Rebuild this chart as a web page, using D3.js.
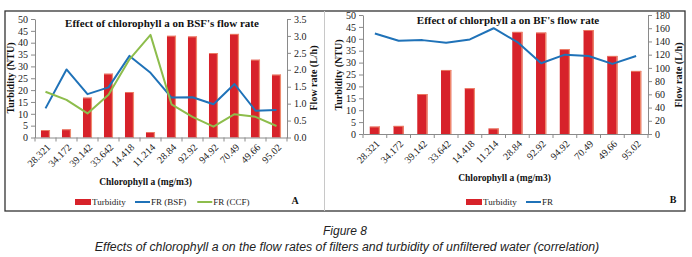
<!DOCTYPE html>
<html>
<head>
<meta charset="utf-8">
<script src="https://cdn.jsdelivr.net/npm/d3@7"></script>
<style>
body{margin:0;background:#fff;}
svg{display:block;}
</style>
</head>
<body>
<svg id="fig"></svg>
<script>
// data
var chlorophyll = ["28.321","34.172","39.142","33.642","14.418","11.214","28.84","92.92","94.92","70.49","49.66","95.02"];
var turbidity = [3.1, 3.4, 16.8, 26.9, 19.2, 2.3, 42.9, 42.6, 35.6, 43.7, 32.8, 26.5];
var frBSF = [0.86, 2.01, 1.28, 1.48, 2.41, 1.91, 1.18, 1.19, 0.98, 1.58, 0.79, 0.81];
var frCCF = [1.35, 1.11, 0.71, 1.26, 2.31, 3.03, 0.98, 0.61, 0.32, 0.69, 0.61, 0.34];
var frBF = [152, 141, 142, 138, 143, 160, 139, 107, 120, 118, 106, 118];
var turbTicks = [0, 5, 10, 15, 20, 25, 30, 35, 40, 45, 50];
var flowTicksA = [0, 0.5, 1, 1.5, 2, 2.5, 3, 3.5];
var flowTicksB = [0, 20, 40, 60, 80, 100, 120, 140, 160, 180];

var W = 692, H = 257;
var serif = "'Liberation Serif','Times New Roman',serif";
var sans = "'Liberation Sans',Arial,sans-serif";
var red = "#d7222a", redEdge = "#ef8a6e", blue = "#1f72b8", green = "#8dbd4c";
var axisGrey = "#8a8a8a";

var svg = d3.select("#fig")
	.attr("width", W)
	.attr("height", H)
	.attr("viewBox", [0, 0, W, H]);

// outer frame + divider
svg.append("rect")
	.attr("x", 5).attr("y", 11)
	.attr("width", 680).attr("height", 200)
	.attr("fill", "none")
	.attr("stroke", "#333")
	.attr("stroke-width", 1.3);
svg.append("line")
	.attr("x1", 324.5).attr("x2", 324.5)
	.attr("y1", 11).attr("y2", 211)
	.attr("stroke", "#c8c8c8")
	.attr("stroke-width", 1);

var panelA = {
	x0: 35, x1: 287, y0: 137.5, y1: 19,
	rMax: 3.5, rTicks: flowTicksA,
	lines: [{values: frBSF, color: blue, name: "FR (BSF)"}, {values: frCCF, color: green, name: "FR (CCF)"}],
	title: "Effect of chlorophyll a on BSF's flow rate", titleX: 162, titleY: 26.5,
	leftLabelX: 13.5, rightLabelX: 316.5, labelY: 78,
	xTitleX: 145.5, xTitleY: 184.5,
	legendX: 75, legendY: 202,
	letter: "A", letterX: 295, letterY: 203.5
};
var panelB = {
	x0: 363, x1: 648, y0: 134, y1: 15,
	rMax: 180, rTicks: flowTicksB,
	lines: [{values: frBF, color: blue, name: "FR"}],
	title: "Effect of chlorphyll a on BF's flow rate", titleX: 508, titleY: 23.5,
	leftLabelX: 341.5, rightLabelX: 681.5, labelY: 75,
	xTitleX: 504.5, xTitleY: 181,
	legendX: 466, legendY: 202,
	letter: "B", letterX: 673, letterY: 202.5
};

drawPanel(panelA);
drawPanel(panelB);

// caption
svg.append("text")
	.attr("x", 345).attr("y", 234.5)
	.attr("text-anchor", "middle")
	.attr("font-family", sans)
	.attr("font-style", "italic")
	.attr("font-size", "12px")
	.attr("fill", "#222")
	.text("Figure 8");
svg.append("text")
	.attr("x", 347).attr("y", 250.5)
	.attr("text-anchor", "middle")
	.attr("font-family", sans)
	.attr("font-style", "italic")
	.attr("font-size", "12.3px")
	.attr("fill", "#222")
	.text("Effects of chlorophyll a on the flow rates of filters and turbidity of unfiltered water (correlation)");

function drawPanel(p){
	var g = svg.append("g");

	var x = d3.scaleBand()
		.domain(chlorophyll)
		.range([p.x0, p.x1])
		.paddingInner(0.57)
		.paddingOuter(0.285);
	var yL = d3.scaleLinear().domain([0, 50]).range([p.y0, p.y1]);
	var yR = d3.scaleLinear().domain([0, p.rMax]).range([p.y0, p.y1]);
	var cx = function(d, i){ return x(chlorophyll[i]) + x.bandwidth() / 2; };

	// bars
	var bars = g.append("g").selectAll("g")
		.data(turbidity)
		.join("g");
	bars.append("rect")
		.attr("x", (d, i) => x(chlorophyll[i]))
		.attr("y", d => yL(d))
		.attr("width", x.bandwidth())
		.attr("height", d => yL(0) - yL(d))
		.attr("fill", red);
	bars.append("rect")
		.attr("x", (d, i) => x(chlorophyll[i]) + x.bandwidth() - 1.2)
		.attr("y", d => yL(d))
		.attr("width", 1.2)
		.attr("height", d => yL(0) - yL(d))
		.attr("fill", redEdge);
	bars.append("rect")
		.attr("x", (d, i) => x(chlorophyll[i]))
		.attr("y", d => yL(d))
		.attr("width", x.bandwidth())
		.attr("height", 0.8)
		.attr("fill", redEdge);

	// left axis
	var left = g.append("g")
		.attr("transform", "translate(" + p.x0 + ",0)")
		.call(d3.axisLeft(yL).tickValues(turbTicks).tickSize(4).tickSizeOuter(0).tickPadding(3));
	// right axis
	var right = g.append("g")
		.attr("transform", "translate(" + p.x1 + ",0)")
		.call(d3.axisRight(yR).tickValues(p.rTicks).tickSize(4).tickSizeOuter(0).tickPadding(3));
	// bottom axis, labels only; ticks sit between categories
	var bottom = g.append("g")
		.attr("transform", "translate(0," + p.y0 + ")")
		.call(d3.axisBottom(x).tickSize(0).tickSizeOuter(0));
	bottom.selectAll(".tick text")
		.attr("x", 0).attr("y", 0)
		.attr("dy", "0.35em")
		.attr("text-anchor", "end")
		.attr("transform", "translate(3,8) rotate(-45)");
	bottom.selectAll(".between")
		.data(d3.range(chlorophyll.length + 1))
		.join("line")
		.attr("class", "between")
		.attr("x1", i => p.x0 + i * x.step())
		.attr("x2", i => p.x0 + i * x.step())
		.attr("y1", 0).attr("y2", 4)
		.attr("stroke", axisGrey);

	[left, right, bottom].forEach(function(a){
		a.selectAll(".domain, .tick line").attr("stroke", axisGrey);
		a.selectAll("text")
			.attr("font-family", serif)
			.attr("font-size", "10px")
			.attr("fill", "#222");
	});

	// flow rate lines
	var line = d3.line()
		.x(cx)
		.y(d => yR(d));
	p.lines.forEach(function(s){
		g.append("path")
			.datum(s.values)
			.attr("d", line)
			.attr("fill", "none")
			.attr("stroke", s.color)
			.attr("stroke-width", 2)
			.attr("stroke-linejoin", "round");
	});

	// titles
	g.append("text")
		.attr("x", p.titleX).attr("y", p.titleY)
		.attr("text-anchor", "middle")
		.attr("font-family", serif)
		.attr("font-weight", "bold")
		.attr("font-size", "11px")
		.attr("fill", "#111")
		.text(p.title);
	g.append("text")
		.attr("transform", "translate(" + p.leftLabelX + "," + p.labelY + ") rotate(-90)")
		.attr("text-anchor", "middle")
		.attr("font-family", serif)
		.attr("font-weight", "bold")
		.attr("font-size", "10px")
		.attr("fill", "#111")
		.text("Turbidity (NTU)");
	g.append("text")
		.attr("transform", "translate(" + p.rightLabelX + "," + p.labelY + ") rotate(-90)")
		.attr("text-anchor", "middle")
		.attr("font-family", serif)
		.attr("font-weight", "bold")
		.attr("font-size", "10px")
		.attr("fill", "#111")
		.text("Flow rate (L/h)");
	g.append("text")
		.attr("x", p.xTitleX).attr("y", p.xTitleY)
		.attr("text-anchor", "middle")
		.attr("font-family", serif)
		.attr("font-weight", "bold")
		.attr("font-size", "9.5px")
		.attr("fill", "#111")
		.text("Chlorophyll a (mg/m3)");

	// legend
	var lg = g.append("g").attr("transform", "translate(" + p.legendX + "," + p.legendY + ")");
	lg.append("rect")
		.attr("x", 0).attr("y", -3)
		.attr("width", 16).attr("height", 6)
		.attr("fill", red);
	lg.append("text")
		.attr("x", 17).attr("y", 3.3)
		.attr("font-family", serif)
		.attr("font-size", "9px")
		.attr("fill", "#222")
		.text("Turbidity");
	var lx = 60;
	p.lines.forEach(function(s){
		lg.append("line")
			.attr("x1", lx).attr("x2", lx + 15)
			.attr("y1", 0).attr("y2", 0)
			.attr("stroke", s.color)
			.attr("stroke-width", 2);
		var t = lg.append("text")
			.attr("x", lx + 16).attr("y", 3.3)
			.attr("font-family", serif)
			.attr("font-size", "9px")
			.attr("fill", "#222")
			.text(s.name);
		lx += 16 + t.node().getComputedTextLength() + 11;
	});

	g.append("text")
		.attr("x", p.letterX).attr("y", p.letterY)
		.attr("text-anchor", "middle")
		.attr("font-family", serif)
		.attr("font-weight", "bold")
		.attr("font-size", "10px")
		.attr("fill", "#111")
		.text(p.letter);
}
</script>
</body>
</html>
